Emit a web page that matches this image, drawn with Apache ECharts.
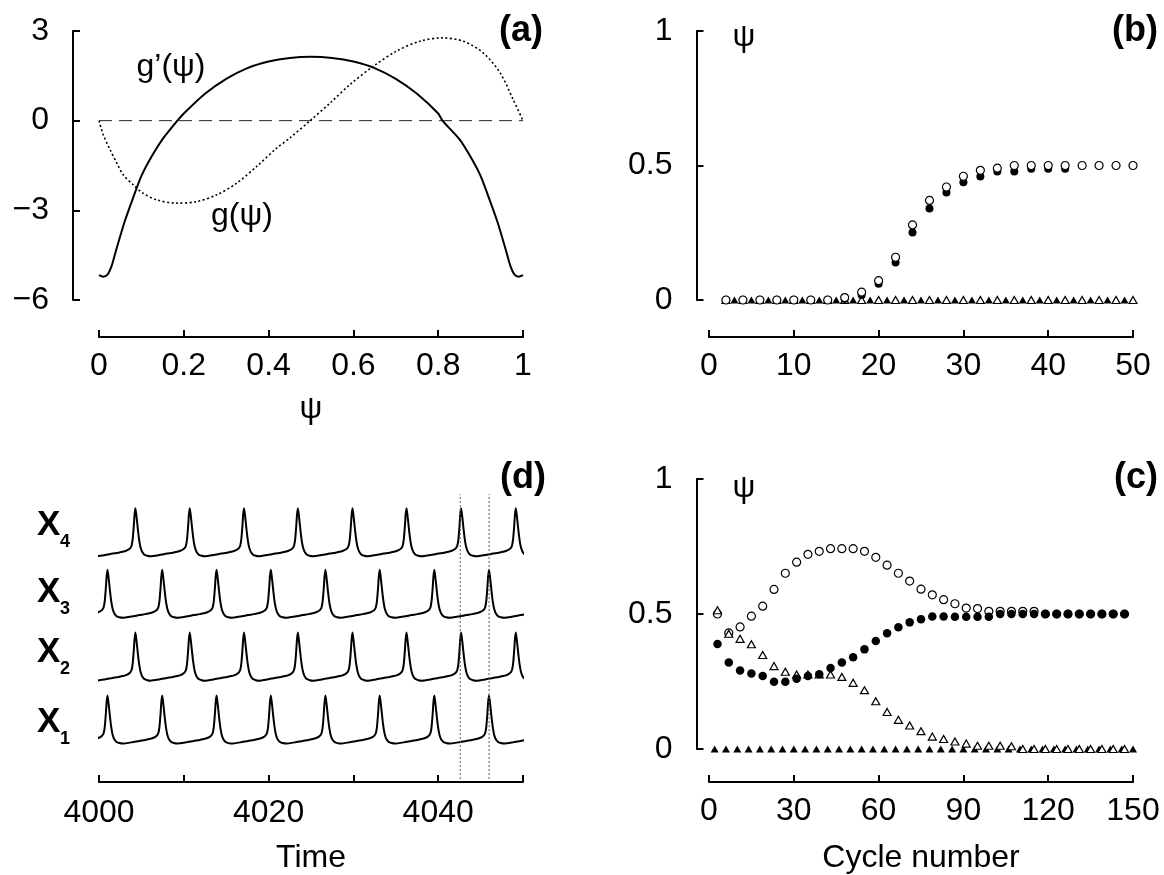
<!DOCTYPE html>
<html>
<head>
<meta charset="utf-8">
<title>Phase locking of four oscillators</title>
<script src="https://cdn.jsdelivr.net/npm/echarts@6/dist/echarts.min.js"></script>
<style>
  html, body { margin: 0; padding: 0; background: #fff; }
  #chart { width: 1164px; height: 875px; }
</style>
</head>
<body>
<div id="chart"></div>
<script>
// (a) coupling function g(psi) (dotted) and its derivative g'(psi) (solid)
const psiG  = [0, 0.01, 0.026, 0.042, 0.057, 0.081, 0.104, 0.136, 0.183, 0.23, 0.278, 0.325, 0.372, 0.419, 0.45, 0.498, 0.545, 0.592, 0.647, 0.702, 0.757, 0.808, 0.859, 0.906, 0.946, 0.977, 1.0];
const gVals = [0, -0.47, -0.97, -1.42, -1.81, -2.15, -2.43, -2.65, -2.76, -2.71, -2.48, -2.09, -1.53, -0.92, -0.58, 0, 0.59, 1.21, 1.82, 2.33, 2.66, 2.77, 2.66, 2.27, 1.6, 0.7, 0];
const psiDG  = [0, 0.01, 0.02, 0.03, 0.04, 0.06, 0.08, 0.1, 0.12, 0.15, 0.185, 0.2, 0.25, 0.3, 0.35, 0.4, 0.45, 0.5, 0.55, 0.6, 0.65, 0.7, 0.75, 0.8, 0.81, 0.85, 0.88, 0.9, 0.92, 0.94, 0.96, 0.97, 0.98, 0.99, 1.0];
const dgVals = [-5.17, -5.22, -5.15, -4.85, -4.35, -3.4, -2.6, -1.85, -1.3, -0.62, 0, 0.24, 0.9, 1.4, 1.76, 1.98, 2.1, 2.14, 2.1, 1.98, 1.76, 1.4, 0.9, 0.24, 0, -0.62, -1.3, -1.85, -2.6, -3.4, -4.35, -4.85, -5.15, -5.22, -5.17];
const zeroX = [0, 1];
const zeroY = [0, 0];

// (b) phases vs cycle number, first run
const cyclesEvenB = [2, 4, 6, 8, 10, 12, 14, 16, 18, 20, 22, 24, 26, 28, 30, 32, 34, 36, 38, 40, 42, 44, 46, 48, 50];
const cyclesOddB  = [3, 5, 7, 9, 11, 13, 15, 17, 19, 21, 23, 25, 27, 29, 31, 33, 35, 37, 39, 41, 43, 45, 47, 49];
const openCircB   = [0, 0, 0, 0, 0, 0, 0, 0.009, 0.029, 0.072, 0.159, 0.279, 0.37, 0.42, 0.46, 0.482, 0.49, 0.5, 0.5, 0.5, 0.5, 0.5, 0.5, 0.5, 0.5];
const filledCircB = [0, 0, 0, 0, 0, 0, 0, 0.004, 0.019, 0.06, 0.139, 0.251, 0.34, 0.4, 0.438, 0.459, 0.478, 0.478, 0.488, 0.488, 0.488, 0.5, 0.5, 0.5, 0.5];
const openTriB    = [0, 0, 0, 0, 0, 0, 0, 0, 0, 0, 0, 0, 0, 0, 0, 0, 0, 0, 0, 0, 0, 0, 0, 0, 0];
const filledTriB  = [0, 0, 0, 0, 0, 0, 0, 0, 0, 0, 0, 0, 0, 0, 0, 0, 0, 0, 0, 0, 0, 0, 0, 0];

// (c) phases vs cycle number, second run
const cyclesC = [3, 7, 11, 15, 19, 23, 27, 31, 35, 39, 43, 47, 51, 55, 59, 63, 67, 71, 75, 79, 83, 87, 91, 95, 99, 103, 107, 111, 115, 119, 123, 127, 131, 135, 139, 143, 147];
const cyclesTriC = [2, 6, 10, 14, 18, 22, 26, 30, 34, 38, 42, 46, 50, 54, 58, 62, 66, 70, 74, 78, 82, 86, 90, 94, 98, 102, 106, 110, 114, 118, 122, 126, 130, 134, 138, 142, 146, 150];
const openCircC   = [0.5, 0.43, 0.452, 0.492, 0.529, 0.591, 0.651, 0.692, 0.721, 0.732, 0.742, 0.742, 0.742, 0.732, 0.71, 0.681, 0.651, 0.622, 0.592, 0.571, 0.553, 0.538, 0.522, 0.52, 0.51, 0.51, 0.51, 0.51, 0.51, 0.5, 0.5, 0.5, 0.5, 0.5, 0.5, 0.5, 0.5];
const filledCircC = [0.389, 0.32, 0.291, 0.28, 0.27, 0.249, 0.249, 0.26, 0.27, 0.277, 0.3, 0.32, 0.34, 0.369, 0.4, 0.429, 0.451, 0.469, 0.481, 0.491, 0.491, 0.49, 0.49, 0.49, 0.49, 0.5, 0.5, 0.5, 0.5, 0.5, 0.5, 0.5, 0.5, 0.5, 0.5, 0.5, 0.5];
const openTriC    = [0.514, 0.427, 0.408, 0.388, 0.348, 0.307, 0.286, 0.276, 0.276, 0.276, 0.276, 0.267, 0.245, 0.218, 0.177, 0.137, 0.108, 0.087, 0.066, 0.046, 0.037, 0.028, 0.02, 0.012, 0.012, 0.012, 0.01, 0, 0, 0, 0, 0, 0, 0, 0, 0, 0];
const filledTriC  = [0, 0, 0, 0, 0, 0, 0, 0, 0, 0, 0, 0, 0, 0, 0, 0, 0, 0, 0, 0, 0, 0, 0, 0, 0, 0, 0, 0, 0, 0, 0, 0, 0, 0, 0, 0, 0, 0];

// (d) membrane traces: one spike shape, placed at the read spike times
const spikeDt  = [-4.64, -3.6, -2.7, -2.0, -1.5, -1.1, -0.8, -0.6, -0.45, -0.32, -0.2, -0.1, 0, 0.1, 0.2, 0.3, 0.4, 0.5, 0.6, 0.75, 0.9, 1.1, 1.4, 1.77];
const spikeVal = [0, 0.025, 0.055, 0.075, 0.095, 0.115, 0.14, 0.17, 0.22, 0.35, 0.6, 0.86, 1, 0.88, 0.72, 0.55, 0.4, 0.28, 0.19, 0.11, 0.065, 0.03, 0.01, 0];
const peaksX1 = [3994.6, 4001.0, 4007.45, 4013.86, 4020.26, 4026.7, 4033.1, 4039.54, 4045.99, 4052.4];
const peaksX2 = [3997.88, 4004.29, 4010.7, 4017.1, 4023.45, 4029.89, 4036.26, 4042.7, 4049.15, 4055.6];
const peaksX3 = [3994.6, 4001.0, 4007.45, 4013.86, 4020.26, 4026.7, 4033.1, 4039.54, 4045.99, 4052.4];
const peaksX4 = [3997.88, 4004.29, 4010.7, 4017.1, 4023.45, 4029.89, 4036.26, 4042.7, 4049.15, 4055.6];
const traceOffsets = [0, 1.31, 2.62, 3.9];
const guideTimes = [4042.6, 4046.0];
const guideRange = [-0.74, 5.19];

const FONT = '"Liberation Sans", Arial, sans-serif';

function zip(xs, ys) {
  return xs.map((x, i) => [x, ys[i]]);
}

function trace(peaks, offset) {
  let pts = [];
  peaks.forEach((p) => {
    spikeDt.forEach((d, i) => pts.push([p + d, offset + spikeVal[i]]));
  });
  pts.sort((a, b) => a[0] - b[0]);
  return pts;
}

function axisStyle(extra) {
  return Object.assign({
    axisLine: { show: true, onZero: false, lineStyle: { color: '#000', width: 2 } },
    axisTick: { show: true, inside: true, length: 7, lineStyle: { color: '#000', width: 2 } },
    splitLine: { show: false },
    axisLabel: { color: '#000', fontSize: 32, fontFamily: FONT, margin: 13 },
    nameTextStyle: { color: '#000', fontSize: 32, fontFamily: FONT },
  }, extra);
}

function minusFmt(v) {
  return String(v).replace('-', '\u2212');
}

function markers(name, xi, data, symbol, filled, size) {
  return {
    name: name,
    type: 'scatter',
    xAxisIndex: xi,
    yAxisIndex: xi,
    data: data,
    symbol: symbol,
    symbolSize: size,
    itemStyle: filled
      ? { color: '#000', borderWidth: 0, opacity: 1 }
      : { color: '#fff', borderColor: '#000', borderWidth: 1.2, opacity: 1 },
  };
}

let chart = echarts.init(document.getElementById('chart'));

let series = [
  // (a)
  { type: 'line', xAxisIndex: 0, yAxisIndex: 0, data: zip(zeroX, zeroY), showSymbol: false,
    lineStyle: { color: '#222', width: 1, type: [13, 7] } },
  { type: 'line', xAxisIndex: 0, yAxisIndex: 0, data: zip(psiG, gVals), showSymbol: false, smooth: 0.3,
    lineStyle: { color: '#000', width: 1.6, type: [2, 2.5] } },
  { type: 'line', xAxisIndex: 0, yAxisIndex: 0, data: zip(psiDG, dgVals), showSymbol: false, smooth: 0.25,
    lineStyle: { color: '#000', width: 2 } },
  // (b)
  markers('b-open-tri', 1, zip(cyclesEvenB, openTriB), 'triangle', false, [8, 7]),
  markers('b-filled-tri', 1, zip(cyclesOddB, filledTriB), 'triangle', true, [8, 7]),
  markers('b-filled-circ', 1, zip(cyclesEvenB, filledCircB), 'circle', true, 8),
  markers('b-open-circ', 1, zip(cyclesEvenB, openCircB), 'circle', false, 8),
  // (c)
  markers('c-filled-tri', 2, zip(cyclesTriC, filledTriC), 'triangle', true, [8, 7]),
  markers('c-open-circ', 2, zip(cyclesC, openCircC), 'circle', false, 8),
  markers('c-open-tri', 2, zip(cyclesC, openTriC), 'triangle', false, [8, 7]),
  markers('c-filled-circ', 2, zip(cyclesC, filledCircC), 'circle', true, 8.5),
];

// (d)
[peaksX1, peaksX2, peaksX3, peaksX4].forEach((peaks, k) => {
  series.push({
    type: 'line', xAxisIndex: 3, yAxisIndex: 3, data: trace(peaks, traceOffsets[k]),
    showSymbol: false, smooth: 0.2, lineStyle: { color: '#000', width: 2 },
  });
});
guideTimes.forEach((t) => {
  series.push({
    type: 'line', xAxisIndex: 3, yAxisIndex: 3, data: [[t, guideRange[0]], [t, guideRange[1]]],
    showSymbol: false, lineStyle: { color: '#555', width: 1, type: [2, 2] },
  });
});

function label(text, x, y, font, align) {
  return {
    type: 'text', x: x, y: y,
    style: { text: text, font: font, fill: '#000', align: align || 'center', verticalAlign: 'middle' },
  };
}

let graphics = [
  label('(a)', 543, 31, 'bold 36px ' + FONT, 'right'),
  label('(b)', 1158, 31, 'bold 36px ' + FONT, 'right'),
  label('(c)', 1158, 478, 'bold 36px ' + FONT, 'right'),
  label('(d)', 546, 478, 'bold 36px ' + FONT, 'right'),
  label('\u03c8', 744, 37, '32px ' + FONT),
  label('\u03c8', 744, 488, '32px ' + FONT),
  label('g\u2019(\u03c8)', 171, 67, '32px ' + FONT),
  label('g(\u03c8)', 242, 216, '32px ' + FONT),
];
[['4', 525.5], ['3', 592.5], ['2', 652.5], ['1', 722.5]].forEach(([n, y]) => {
  graphics.push(label('X', 37, y, 'bold 35px ' + FONT, 'left'));
  graphics.push(label(n, 60, y + 17, 'bold 18px ' + FONT, 'left'));
});

chart.setOption({
  animation: false,
  backgroundColor: '#fff',
  grid: [
    { left: 99, top: 31, width: 424, height: 269 },
    { left: 709, top: 31, width: 424, height: 269 },
    { left: 709, top: 479, width: 424, height: 270 },
    { left: 99, top: 489, width: 424, height: 293 },
  ],
  xAxis: [
    axisStyle({ type: 'value', gridIndex: 0, min: 0, max: 1, interval: 0.2, offset: 37,
      name: '\u03c8', nameLocation: 'middle', nameGap: 56 }),
    axisStyle({ type: 'value', gridIndex: 1, min: 0, max: 50, interval: 10, offset: 37 }),
    axisStyle({ type: 'value', gridIndex: 2, min: 0, max: 150, interval: 30, offset: 33,
      name: 'Cycle number', nameLocation: 'middle', nameGap: 60 }),
    axisStyle({ type: 'value', gridIndex: 3, min: 4000, max: 4050, interval: 10,
      name: 'Time', nameLocation: 'middle', nameGap: 60,
      axisLabel: { color: '#000', fontSize: 32, fontFamily: FONT, margin: 15,
        formatter: (v) => (v % 20 === 0 ? String(v) : '') } }),
  ],
  yAxis: [
    axisStyle({ type: 'value', gridIndex: 0, min: -6, max: 3, interval: 3, offset: 26,
      axisLabel: { color: '#000', fontSize: 32, fontFamily: FONT, margin: 24, formatter: minusFmt } }),
    axisStyle({ type: 'value', gridIndex: 1, min: 0, max: 1, interval: 0.5, offset: 12.5,
      axisLabel: { color: '#000', fontSize: 32, fontFamily: FONT, margin: 24 } }),
    axisStyle({ type: 'value', gridIndex: 2, min: 0, max: 1, interval: 0.5, offset: 12.5,
      axisLabel: { color: '#000', fontSize: 32, fontFamily: FONT, margin: 24 } }),
    { type: 'value', gridIndex: 3, min: -0.8, max: 5.3, show: false },
  ],
  series: series,
  graphic: graphics,
});
</script>
</body>
</html>
